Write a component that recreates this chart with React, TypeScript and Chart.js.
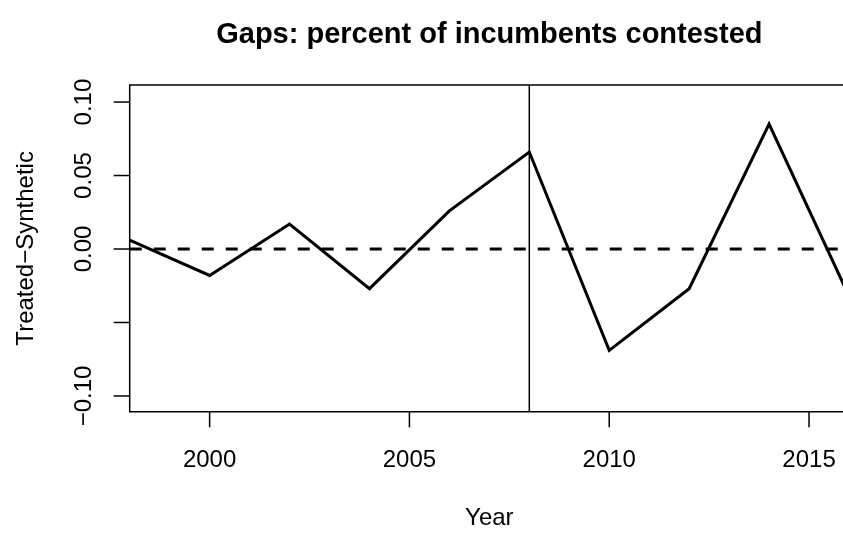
import React, { useEffect, useRef } from "react";
import { Chart, registerables } from "chart.js";

Chart.register(...registerables);

const years = [1998, 2000, 2002, 2004, 2006, 2008, 2010, 2012, 2014, 2016];
const gaps = [0.006, -0.018, 0.017, -0.027, 0.026, 0.066, -0.069, -0.027, 0.085, -0.032];
const treatmentYear = 2008;
const xTicks = [2000, 2005, 2010, 2015];
const yTicks = [-0.1, -0.05, 0, 0.05, 0.1];
const yTickLabels = ["\u22120.10", "", "0.00", "0.05", "0.10"];
const titleText = "Gaps: percent of incumbents contested";
const xTitle = "Year";
const yTitle = "Treated\u2212Synthetic";

const FONT = "'Liberation Sans', Arial, Helvetica, sans-serif";

const W = 910;
const H = 533;

const framePlugin = {
  id: "rframe",
  afterDraw(chart: any) {
    const ctx = chart.ctx as CanvasRenderingContext2D;
    const { left, right, top, bottom } = chart.chartArea;
    const xs = chart.scales.x;
    const ys = chart.scales.y;
    ctx.save();
    ctx.strokeStyle = "#000";
    ctx.fillStyle = "#000";
    ctx.lineWidth = 1.5;
    // box
    ctx.beginPath();
    ctx.rect(left, top, right - left, bottom - top);
    ctx.stroke();
    // x ticks
    ctx.font = `24px ${FONT}`;
    ctx.textAlign = "center";
    ctx.textBaseline = "alphabetic";
    xTicks.forEach((t) => {
      const px = xs.getPixelForValue(t);
      ctx.beginPath();
      ctx.moveTo(px, bottom);
      ctx.lineTo(px, bottom + 15.6);
      ctx.stroke();
      ctx.fillText(String(t), px, bottom + 55);
    });
    // y ticks
    yTicks.forEach((t, i) => {
      const py = ys.getPixelForValue(t);
      ctx.beginPath();
      ctx.moveTo(left, py);
      ctx.lineTo(left - 16, py);
      ctx.stroke();
      const lab = yTickLabels[i];
      if (lab) {
        ctx.save();
        ctx.translate(91, py);
        ctx.rotate(-Math.PI / 2);
        ctx.fillText(lab, 0, 0);
        ctx.restore();
      }
    });
    // axis titles
    ctx.fillText(xTitle, (left + right) / 2, 525);
    ctx.save();
    ctx.translate(33, (top + bottom) / 2);
    ctx.rotate(-Math.PI / 2);
    ctx.fillText(yTitle, 0, 0);
    ctx.restore();
    // main title
    ctx.font = `bold 29px ${FONT}`;
    ctx.fillText(titleText, (left + right) / 2, 43);
    ctx.restore();
  },
};

export default function App() {
  const ref = useRef<HTMLCanvasElement | null>(null);
  useEffect(() => {
    if (!ref.current) return;
    const chart = new Chart(ref.current, {
      type: "line",
      data: {
        datasets: [
          {
            data: years.map((y, i) => ({ x: y, y: gaps[i] })),
            borderColor: "#000",
            borderWidth: 3,
            pointRadius: 0,
            tension: 0,
            clip: 0,
          },
          {
            data: [
              { x: years[0], y: 0 },
              { x: years[years.length - 1], y: 0 },
            ],
            borderColor: "#000",
            borderWidth: 3,
            borderDash: [12, 12],
            pointRadius: 0,
            clip: 0,
          },
          {
            data: [
              { x: treatmentYear, y: -1 },
              { x: treatmentYear, y: 1 },
            ],
            borderColor: "#000",
            borderWidth: 1.5,
            pointRadius: 0,
            clip: 0,
          },
        ],
      } as any,
      options: {
        animation: false,
        responsive: false,
        devicePixelRatio: 1,
        layout: { padding: { left: 129.7, top: 85, right: W - 849, bottom: H - 411.7 } },
        scales: {
          x: { type: "linear", min: 1998, max: 2016, display: false },
          y: { type: "linear", min: -0.1107, max: 0.1116, display: false },
        },
        plugins: { legend: { display: false }, tooltip: { enabled: false }, title: { display: false } },
      } as any,
      plugins: [framePlugin],
    });
    return () => chart.destroy();
  }, []);
  return (
    <div style={{ position: "fixed", left: 0, top: 0, width: 843, height: 533, overflow: "hidden", background: "#fff" }}>
      <canvas ref={ref} width={W} height={H} style={{ display: "block", width: W, height: H }} />
    </div>
  );
}
